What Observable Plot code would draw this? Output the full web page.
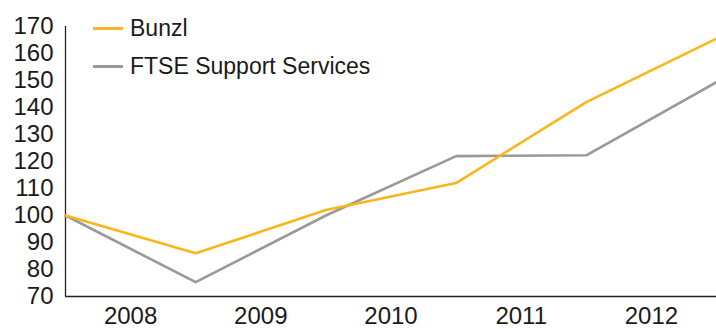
<!DOCTYPE html>
<html>
<head>
<meta charset="utf-8">
<script src="https://cdn.jsdelivr.net/npm/d3@7"></script>
<script src="https://cdn.jsdelivr.net/npm/@observablehq/plot@0.6"></script>
<style>
  body { margin: 0; background: #fff; }
  #wrap { position: relative; width: 716px; height: 329px; font-family: "Liberation Sans", Arial, sans-serif; }
  #legend { position: absolute; left: 93px; top: 9px; font-size: 23px; color: #1a1a1a; }
  .item { display: flex; align-items: center; height: 38px; }
  .swatch { width: 30px; height: 3px; margin-right: 7px; }
</style>
</head>
<body>
<div id="wrap"><div id="legend"></div></div>
<script>
const periods = [0, 1, 2, 3, 4, 5]; // year-ends: Dec 2007 .. Dec 2012
const bunzl = [100, 86, 102, 112, 142, 165.5];
const ftse = [100, 75.3, 100, 122, 122.3, 149.4];
const yearLabels = ["2008", "2009", "2010", "2011", "2012"];
const seriesNames = ["Bunzl", "FTSE Support Services"];
const colors = ["#F9B61A", "#999999"];

const rows = [];
periods.forEach((p, i) => {
  rows.push({p, v: bunzl[i], s: seriesNames[0]});
  rows.push({p, v: ftse[i], s: seriesNames[1]});
});

const chart = Plot.plot({
  width: 716,
  height: 329,
  marginLeft: 65,
  marginRight: 0,
  marginTop: 26,
  marginBottom: 33,
  style: {fontFamily: "Liberation Sans, Arial, sans-serif", fontSize: "24px", color: "#1a1a1a", background: "transparent"},
  x: {domain: [0, 5]},
  y: {domain: [70, 170]},
  color: {domain: seriesNames, range: colors},
  marks: [
    Plot.axisY({ticks: d3.range(70, 171, 10), tickSize: 0, tickPadding: 12, label: null, fontSize: 24}),
    Plot.axisX({ticks: yearLabels.map((_, i) => i + 0.5), tickFormat: (d) => yearLabels[Math.floor(d)], tickSize: 0, tickPadding: 10, label: null, fontSize: 24}),
    Plot.ruleX([0], {y1: 70, y2: 170, stroke: "#222", strokeWidth: 1.3}),
    Plot.ruleY([70], {stroke: "#222", strokeWidth: 1.3}),
    Plot.line(rows.filter(d => d.s === seriesNames[1]), {x: "p", y: "v", stroke: "s", strokeWidth: 2.6}),
    Plot.line(rows.filter(d => d.s === seriesNames[0]), {x: "p", y: "v", stroke: "s", strokeWidth: 2.6})
  ]
});
document.getElementById("wrap").prepend(chart);

const legend = document.getElementById("legend");
seriesNames.forEach((n, i) => {
  const it = document.createElement("div");
  it.className = "item";
  const sw = document.createElement("span");
  sw.className = "swatch";
  sw.style.background = colors[i];
  const t = document.createElement("span");
  t.textContent = n;
  it.append(sw, t);
  legend.append(it);
});
</script>
</body>
</html>
